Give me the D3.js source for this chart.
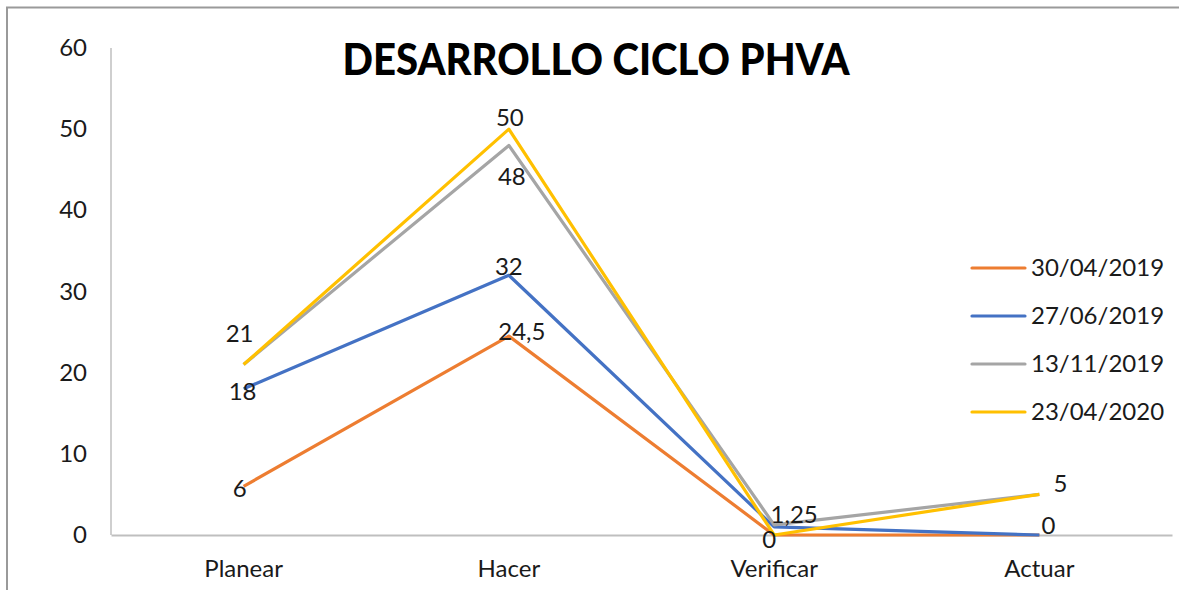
<!DOCTYPE html>
<html>
<head>
	<title> ciclo phva </title>
	<script src="https://d3js.org/d3.v7.min.js"></script>
	<style>
		body { margin: 0; background: white; }
		text { font-family: Lato, "Open Sans", sans-serif; fill: #1a1a1a; }
	</style>
</head>

<body>
	<svg id="chart"></svg>

	<script type="text/javascript">

		// chart values
		const categories = ["Planear", "Hacer", "Verificar", "Actuar"];
		const seriesNames = ["30/04/2019", "27/06/2019", "13/11/2019", "23/04/2020"];
		const serie1 = [6, 24.5, 0, 0];
		const serie2 = [18, 32, 1, 0];
		const serie3 = [21, 48, 1.25, 5];
		const serie4 = [21, 50, 0, 5];
		const yTicks = [0, 10, 20, 30, 40, 50, 60];

		// which points carry a data label: [series index, category index]
		const labelPoints = [[3, 0], [1, 0], [0, 0], [3, 1], [2, 1], [1, 1], [0, 1], [2, 2], [0, 2], [3, 3], [1, 3]];
		// pixel offset of each label from its point (dx, dy to baseline)
		const labelOffsets = [[-4, -23], [-1, 11], [-4, 11], [1, -3], [3, 40], [0, 0], [13, 4], [20, -2], [-5, 13], [21, -2], [9, -1]];

		const colors = ["#ED7D31", "#4472C4", "#A5A5A5", "#FFC000"];

		function plot() {
			var w = 1179;
			var h = 590;

			const svg = d3.select("#chart").attr("width", w).attr("height", h);

			const allSeries = [serie1, serie2, serie3, serie4];

			// chart frame
			svg.append("rect").attr("x", 7).attr("y", 7.5).attr("width", w + 10).attr("height", h + 10)
				.style("fill", "white").style("stroke", "#9a9a9a").style("stroke-width", 2);

			let x_scale = d3.scaleBand().domain(categories).range([111, 1172]).padding(0);
			let y_scale = d3.scaleLinear().domain([0, 60]).range([535, 48]);
			const cx = c => x_scale(c) + x_scale.bandwidth() / 2;

			// y axis labels + line
			svg.append("g").selectAll("text").data(yTicks).join("text")
				.attr("x", 87).attr("y", d => y_scale(d) + 8)
				.attr("text-anchor", "end").style("font-size", "24px")
				.text(d => d);
			svg.append("line").attr("x1", 111).attr("x2", 111).attr("y1", y_scale(60)).attr("y2", y_scale(0))
				.style("stroke", "#bfbfbf").style("stroke-width", 1.5);

			// x axis line + labels
			var xaxis = d3.axisBottom(x_scale).tickSize(0).tickPadding(0);
			const gx = svg.append("g").attr("transform", "translate(0," + y_scale(0) + ")").call(xaxis);
			gx.select(".domain").style("stroke", "#bfbfbf").style("stroke-width", 2);
			gx.selectAll(".tick text").attr("dy", 0).attr("y", 42)
				.style("font-size", "24px").style("font-family", "Lato, sans-serif").style("fill", "#1a1a1a");

			// lines
			const line = d3.line().x((d, i) => cx(categories[i])).y(d => y_scale(d));
			svg.append("g").selectAll("path").data(allSeries).join("path")
				.attr("d", d => line(d))
				.style("fill", "none")
				.style("stroke", (d, i) => colors[i])
				.style("stroke-width", 3.2)
				.style("stroke-linejoin", "round");

			// data labels
			svg.append("g").selectAll("text").data(labelPoints).join("text")
				.attr("x", (d, i) => cx(categories[d[1]]) + labelOffsets[i][0])
				.attr("y", (d, i) => y_scale(allSeries[d[0]][d[1]]) + labelOffsets[i][1])
				.attr("text-anchor", "middle").style("font-size", "24px")
				.text(d => String(allSeries[d[0]][d[1]]).replace(".", ","));

			// title
			svg.append("text").attr("x", 596).attr("y", 75)
				.attr("text-anchor", "middle")
				.attr("textLength", 507).attr("lengthAdjust", "spacingAndGlyphs")
				.style("font-size", "43px").style("font-weight", "900").style("fill", "black")
				.text("DESARROLLO CICLO PHVA");

			// legend
			const lg = svg.append("g").selectAll("g").data(seriesNames).join("g")
				.attr("transform", (d, i) => "translate(972," + (268 + i * 48) + ")");
			lg.append("line").attr("x1", 0).attr("x2", 53).attr("y1", 0).attr("y2", 0)
				.style("stroke", (d, i) => colors[i]).style("stroke-width", 3.2).style("stroke-linecap", "round");
			lg.append("text").attr("x", 59).attr("y", 8).style("font-size", "24px").text(d => d);
		}

		plot();

	</script>
</body>
</html>
